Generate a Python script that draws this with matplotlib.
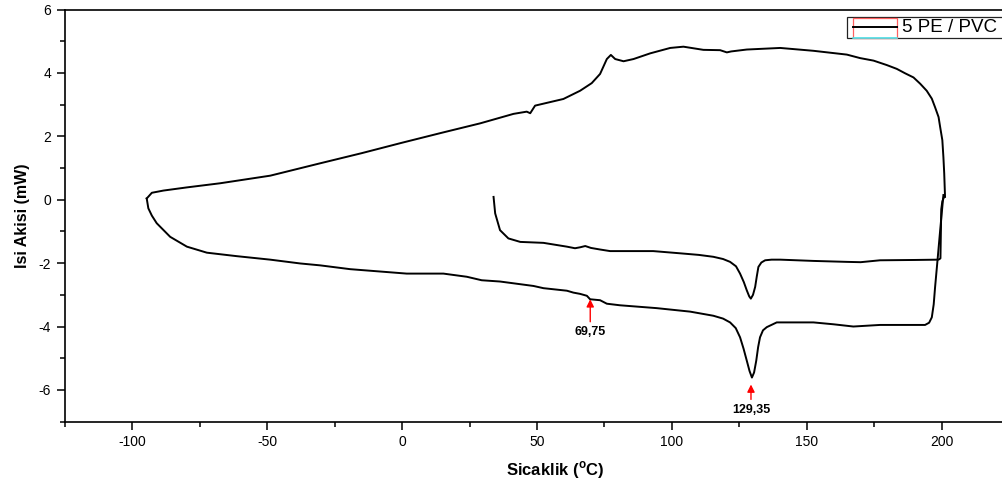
import matplotlib
matplotlib.use("Agg")
import matplotlib.pyplot as plt
from matplotlib.ticker import MultipleLocator
from matplotlib.patches import Rectangle
from matplotlib.lines import Line2D

plt.rcParams['font.family'] = ['Liberation Sans', 'DejaVu Sans']
plt.rcParams['axes.unicode_minus'] = False

# First heating (starts at ~34 °C)
heat1_T = [33.9, 34.5, 36.3, 39.4, 43.8, 52.4, 61.1, 64.1, 66.0, 67.9, 70.0, 73.4, 77.1,
           93.1, 103.1, 110.0, 115.4, 119.0, 121.6, 123.8, 125.3, 126.7, 127.8, 128.7,
           129.3, 130.1, 130.9, 131.5, 132.1, 133.2, 134.6, 137.0, 140.2, 152.5, 164.9,
           170.0, 177.2, 190.0, 198.9, 199.6, 199.9, 200.3, 201.0]
heat1_Q = [0.09, -0.43, -0.96, -1.22, -1.33, -1.36, -1.48, -1.53, -1.50, -1.46, -1.52, -1.57, -1.62,
           -1.62, -1.69, -1.74, -1.80, -1.87, -1.96, -2.10, -2.33, -2.60, -2.86, -3.05,
           -3.12, -3.00, -2.75, -2.42, -2.12, -1.98, -1.91, -1.89, -1.89, -1.93, -1.96,
           -1.97, -1.91, -1.90, -1.89, -1.85, -0.30, -0.05, 0.10]

# Cooling (200 °C -> -95 °C)
cool_T = [201.3, 201.0, 200.7, 200.3, 199.5, 198.9, 197.6, 196.4, 194.5, 192.1, 189.6, 186.5,
          183.4, 179.7, 174.8, 169.8, 164.9, 152.5, 140.2,
          127.8, 122.0, 120.4, 117.9, 111.7, 104.3, 99.4, 92.0, 85.8, 82.1, 79.0, 77.4,
          75.9, 73.4, 70.3, 66.0, 59.8, 49.3, 47.5, 46.2, 41.3, 28.9, 15.0, 0.0, -15.0,
          -30.4, -48.9, -67.5, -79.8, -88.5, -92.8, -94.7]
cool_Q = [0.09, 0.83, 1.34, 1.88, 2.29, 2.61, 2.92, 3.19, 3.44, 3.66, 3.86, 3.99,
          4.13, 4.25, 4.39, 4.47, 4.58, 4.70, 4.79,
          4.74, 4.68, 4.65, 4.72, 4.73, 4.83, 4.79, 4.62, 4.44, 4.37, 4.44, 4.57,
          4.44, 3.97, 3.68, 3.44, 3.18, 2.97, 2.73, 2.78, 2.71, 2.41, 2.12, 1.80, 1.47,
          1.15, 0.76, 0.52, 0.39, 0.29, 0.22, 0.04]

# Second heating (-95 °C -> 200 °C)
heat2_T = [-94.7, -94.1, -92.8, -91.0, -86.0, -79.8, -72.4, -61.3, -48.9, -37.8, -30.4,
           -19.3, 1.7, 15.3, 24.0, 29.5, 36.3, 48.7, 52.4, 61.1, 63.5, 66.0, 68.5, 69.7,
           73.4, 75.9, 80.8, 94.4, 106.8, 115.4, 119.0, 121.6, 123.7, 125.3, 126.6, 127.8,
           128.8, 129.7, 130.5, 131.3, 132.0, 132.7, 133.8, 135.2, 138.9, 147.6, 152.5,
           160.0, 167.3, 177.2, 193.9, 195.4, 196.4, 197.1, 197.6, 198.5, 199.5, 200.7]
heat2_Q = [0.04, -0.27, -0.50, -0.74, -1.17, -1.48, -1.67, -1.78, -1.89, -2.01, -2.07,
           -2.19, -2.33, -2.33, -2.43, -2.54, -2.58, -2.72, -2.79, -2.87, -2.93, -2.97, -3.03, -3.14,
           -3.17, -3.28, -3.33, -3.42, -3.53, -3.66, -3.75, -3.87, -4.05, -4.34, -4.70, -5.08,
           -5.40, -5.61, -5.45, -5.08, -4.65, -4.34, -4.12, -4.02, -3.87, -3.87, -3.87,
           -3.93, -4.00, -3.95, -3.95, -3.88, -3.71, -3.30, -2.77, -1.92, -0.96, 0.15]

# Annotated peaks
peak_T = [69.75, 129.35]
peak_labels = ["69,75", "129,35"]
peak_tip_Q = [-3.14, -5.83]
peak_tail_Q = [-3.85, -6.30]
label_Q = [-4.18, -6.62]

legend_label = "5 PE / PVC"

W, H = 1002, 491
fig = plt.figure(figsize=(W / 100, H / 100), dpi=100)
left = 65 / W
bottom = 1 - 421.6 / H
top = 1 - 9.6 / H
xmin, xmax = -125, 230
width = (xmax - xmin) * 2.697 / W
ax = fig.add_axes([left, bottom, width, top - bottom])

for T, Q in [(heat1_T, heat1_Q), (cool_T, cool_Q), (heat2_T, heat2_Q)]:
    ax.plot(T, Q, color='black', lw=1.4, solid_joinstyle='round')

for t, q0, q1, lab, ql in zip(peak_T, peak_tip_Q, peak_tail_Q, peak_labels, label_Q):
    ax.annotate('', xy=(t, q0), xytext=(t, q1),
                arrowprops=dict(arrowstyle='-|>', color='red', lw=1.0,
                                mutation_scale=11, shrinkA=0, shrinkB=0))
    ax.text(t, ql, lab, ha='center', va='center', fontsize=9, fontweight='bold')

ax.set_xlim(xmin, xmax)
ax.set_ylim(-7, 6)
ax.xaxis.set_major_locator(MultipleLocator(50))
ax.xaxis.set_minor_locator(MultipleLocator(25))
ax.yaxis.set_major_locator(MultipleLocator(2))
ax.yaxis.set_minor_locator(MultipleLocator(1))
ax.tick_params(which='major', direction='out', length=6, width=1.1, labelsize=10, pad=4)
ax.tick_params(which='minor', direction='out', length=3.5, width=1.1)
for s in ['left', 'bottom', 'top']:
    ax.spines[s].set_linewidth(1.2)
ax.spines['right'].set_visible(False)
ax.set_xticks([-100, -50, 0, 50, 100, 150, 200])

ax.set_ylabel('Isi Akisi (mW)', fontsize=11.5, fontweight='bold', labelpad=6)
fig.text(555 / W, 1 - 470 / H, r'Sicaklik ($^{\mathregular{o}}$C)', ha='center', va='center',
         fontsize=12, fontweight='bold')

# Legend box (drawn in figure pixel space, cut at right edge like the reference)
def fx(p):
    return p / W

def fy(p):
    return 1 - p / H

fig.add_artist(Rectangle((fx(846.5), fy(38.3)), fx(200), fy(17.3) - fy(38.3),
                         transform=fig.transFigure, fill=True, facecolor='white',
                         edgecolor='#222222', lw=0.9, zorder=10))
fig.add_artist(Rectangle((fx(852.7), fy(38.0)), fx(897.3) - fx(852.7), fy(18.5) - fy(38.0),
                         transform=fig.transFigure, fill=False, edgecolor='#ff6060', lw=0.9,
                         zorder=11))
fig.add_artist(Line2D([fx(852.7), fx(897.3)], [fy(38.0), fy(38.0)],
                      transform=fig.transFigure, color='#40e8f0', lw=1.1, zorder=12))
fig.add_artist(Line2D([fx(852.7), fx(897.3)], [fy(27.3), fy(27.3)],
                      transform=fig.transFigure, color='black', lw=1.4, zorder=12))
fig.text(fx(902), fy(27.5), legend_label, ha='left', va='center', fontsize=13.5, zorder=13)

fig.savefig('out.png', dpi=100)
